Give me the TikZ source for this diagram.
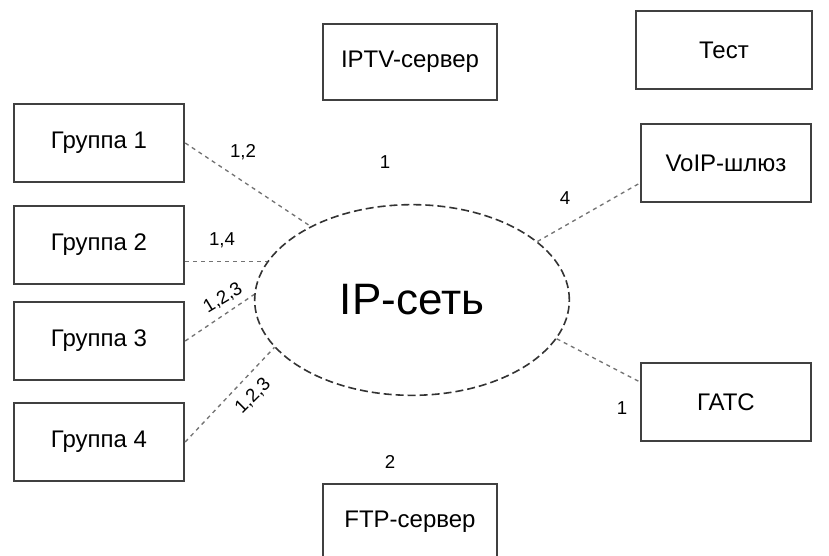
\documentclass[tikz,border=0pt]{standalone}
\usepackage{fontspec}
\setmainfont{Liberation Sans}
\usetikzlibrary{shapes.geometric,calc}

\begin{document}
\begin{tikzpicture}[x=0.75pt, y=-0.75pt,
    box/.style={draw=black!75, line width=1.3pt, minimum width=128pt, minimum height=59pt, inner sep=0pt, font=\fontsize{18}{20}\selectfont},
    link/.style={draw=black!55, dash pattern=on 3pt off 3pt, line width=1pt},
    lbl/.style={font=\fontsize{14}{16}\selectfont, inner sep=1pt}]
  \useasboundingbox (0,0) rectangle (829,556);
  % groups on the left
  \node[box] (g1) at (99,143) {Группа 1};
  \node[box] (g2) at (99,245) {Группа 2};
  \node[box] (g3) at (99,341) {Группа 3};
  \node[box] (g4) at (99,442) {Группа 4};
  % servers
  \node[box, minimum width=130pt, minimum height=57pt] (iptv) at (410,62) {IPTV-сервер};
  \node[box, minimum width=130pt, minimum height=57pt] (ftp) at (410,522) {FTP-сервер};
  \node[box, minimum width=132pt] (test) at (724,50) {Тест};
  \node[box] (voip) at (726,163) {VoIP-шлюз};
  \node[box] (gats) at (726,402) {ГАТС};
  % network
  \node[ellipse, draw=black!80, dash pattern=on 6pt off 3pt, line width=1.2pt, minimum width=236pt, minimum height=143pt, inner sep=0pt, font=\fontsize{33}{35}\selectfont] (net) at (412,300) {IP-сеть};
  % links
  \draw[link] (g1.east) -- (net.144);
  \draw[link] (g2.east |- net.165) -- (net.165);
  \draw[link] (g3.east) -- (net.178);
  \draw[link] (g4.east) -- (net.199);
  \draw[link] (net.25) -- ($(voip.west)!0.5!(voip.south west)$);
  \draw[link] (net.-15) -- ($(gats.west)!0.5!(gats.north west)$);
  % port numbers
  \node[lbl] (l1) at (243,152) {1,2};
  \node[lbl] (l2) at (222,240) {1,4};
  \node[lbl, rotate=31] (l3) at (223,298) {1,2,3};
  \node[lbl, rotate=45] (l4) at (253,396) {1,2,3};
  \node[lbl] (l5) at (385,162) {1};
  \node[lbl] (l6) at (565,198) {4};
  \node[lbl] (l7) at (622,408) {1};
  \node[lbl] (l8) at (390,462) {2};
\end{tikzpicture}
\end{document}
